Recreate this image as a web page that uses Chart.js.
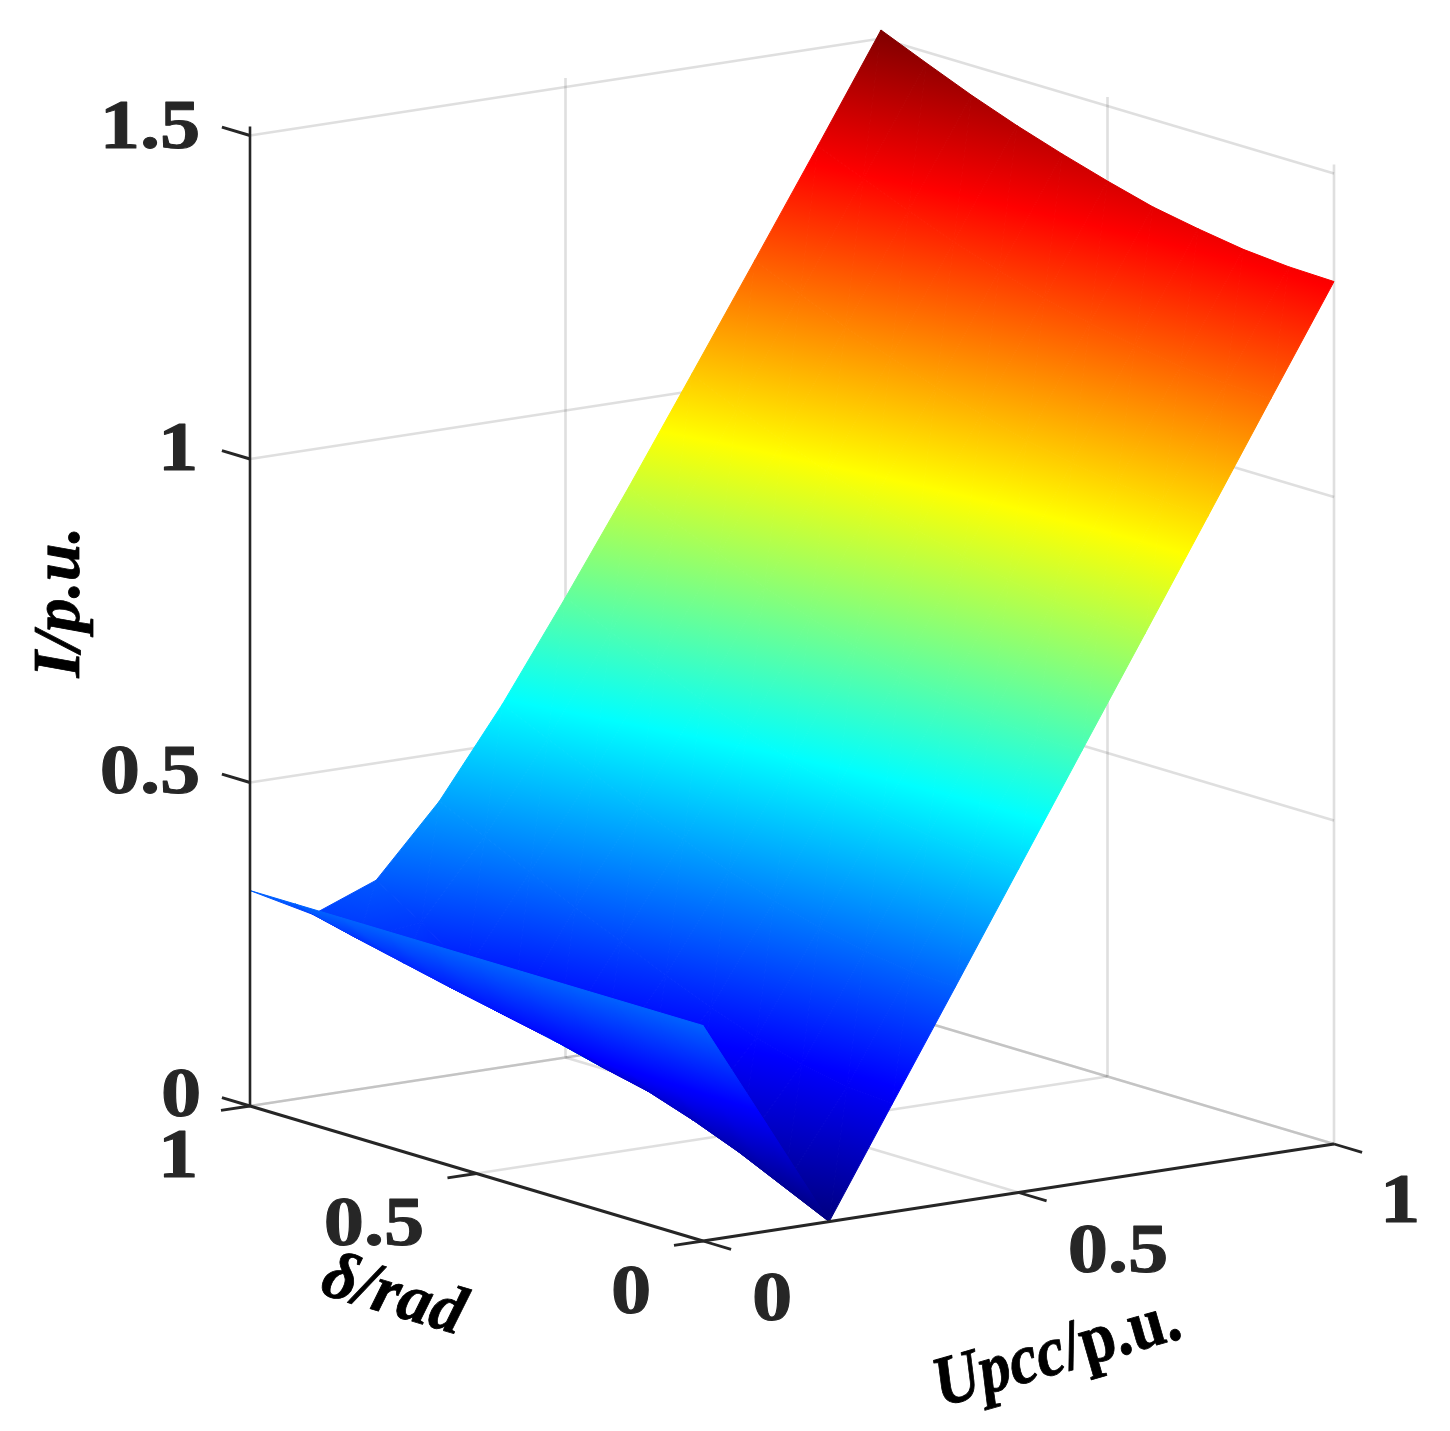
<!DOCTYPE html>
<html>
<head>
<meta charset="utf-8">
<style>html,body{margin:0;padding:0;background:#fff}canvas{display:block}</style>
<script src="https://cdn.jsdelivr.net/npm/chart.js@4/dist/chart.umd.js"></script>
</head>
<body>
<canvas id="c" width="1450" height="1431"></canvas>
<script>
// Grid of the surface
const upccValues  = [0, 0.1, 0.2, 0.3, 0.4, 0.5, 0.6, 0.7, 0.8, 0.9, 1];
const deltaValues = [0, 0.1, 0.2, 0.3, 0.4, 0.5, 0.6, 0.7, 0.8, 0.9, 1];
// I/p.u., one array per Upcc value, delta rising
const iU00 = [0.333,0.333,0.333,0.333,0.333,0.333,0.333,0.333,0.333,0.333,0.333];
const iU01 = [0.167,0.169,0.174,0.181,0.191,0.203,0.217,0.232,0.248,0.264,0.281];
const iU02 = [0.000,0.033,0.066,0.094,0.118,0.134,0.152,0.170,0.222,0.275,0.319];
const iU03 = [0.167,0.172,0.186,0.207,0.233,0.262,0.293,0.325,0.358,0.393,0.426];
const iU04 = [0.333,0.336,0.346,0.362,0.383,0.407,0.435,0.464,0.496,0.528,0.561];
const iU05 = [0.500,0.503,0.511,0.524,0.542,0.563,0.589,0.616,0.647,0.678,0.711];
const iU06 = [0.667,0.669,0.677,0.689,0.705,0.725,0.749,0.775,0.804,0.834,0.866];
const iU07 = [0.833,0.835,0.842,0.854,0.869,0.889,0.912,0.937,0.965,0.994,1.026];
const iU08 = [1.000,1.002,1.009,1.020,1.034,1.053,1.075,1.099,1.126,1.156,1.187];
const iU09 = [1.167,1.169,1.175,1.186,1.200,1.218,1.239,1.263,1.290,1.319,1.349];
const iU10 = [1.333,1.335,1.341,1.352,1.365,1.384,1.405,1.428,1.454,1.483,1.513];
const currentRows = [iU00,iU01,iU02,iU03,iU04,iU05,iU06,iU07,iU08,iU09,iU10];
// Axis ticks
const upccTicks  = [0, 0.5, 1];
const deltaTicks = [0, 0.5, 1];
const currentTicks = [0, 0.5, 1, 1.5];
const currentTop = 1.514;
// Text
const upccTickLabels = ['0','0.5','1'];
const deltaTickLabels = ['0','0.5','1'];
const currentTickLabels = ['0','0.5','1','1.5'];

// Orthographic view of the 3D box onto the chart's x/y scales
const view = {x0:703, xU:631, xD:-453, y0:1241, yU:-97, yD:-135, yI:-647};
const project = (u,d,i) => ({x: view.x0+view.xU*u+view.xD*d, y: view.y0+view.yU*u+view.yD*d+view.yI*i});
const depth = (u,d,i) => 453*u + 631*d - 199.6*i;

// Jet colormap
const jet = [[0,'rgb(0,0,128)'],[0.125,'rgb(0,0,255)'],[0.375,'rgb(0,255,255)'],[0.625,'rgb(255,255,0)'],[0.875,'rgb(255,0,0)'],[1,'rgb(128,0,0)']];
const cMax = Math.max(...currentRows.flat());

const GRID = 'rgba(38,38,38,0.15)';
const AXIS = '#262626';
const line = (pts,color,w,order,label) => ({label,type:'scatter',showLine:true,data:pts,borderColor:color,borderWidth:w,pointRadius:0,fill:false,order,clip:false});

const datasets = [];
// Wall and floor grid
currentTicks.forEach(z=>{
  datasets.push(line([project(0,1,z),project(1,1,z)],GRID,2.6,3,'wall U z='+z));
  datasets.push(line([project(1,1,z),project(1,0,z)],GRID,2.6,3,'wall d z='+z));
});
upccTicks.filter(u=>u>0).forEach(u=>{
  datasets.push(line([project(u,1,0),project(u,1,currentTop)],GRID,2.6,3,'vert U='+u));
  datasets.push(line([project(u,0,0),project(u,1,0)],GRID,2.6,3,'floor U='+u));
});
deltaTicks.filter(d=>d<1).forEach(d=>{
  datasets.push(line([project(1,d,0),project(1,d,currentTop)],GRID,2.6,3,'vert d='+d));
});
deltaTicks.filter(d=>d>0).forEach(d=>{
  datasets.push(line([project(0,d,0),project(1,d,0)],GRID,2.6,3,'floor d='+d));
});
// Surface vertices
const surfacePoints = [];
upccValues.forEach((u,a)=>deltaValues.forEach((d,b)=>{
  const p = project(u,d,currentRows[a][b]);
  surfacePoints.push({x:p.x,y:p.y,u,d,i:currentRows[a][b]});
}));
const surfaceIndex = datasets.length;
datasets.push({label:'I(Upcc,delta)',type:'scatter',data:surfacePoints,pointRadius:0,showLine:false,order:2,clip:false});
// Dark axes and ticks
datasets.push(line([project(0,1,0),project(0,1,currentTop)],AXIS,2.6,1,'I axis'));
datasets.push(line([project(0,1,0),project(0,0,0)],AXIS,3,1,'delta axis'));
datasets.push(line([project(0,0,0),project(1,0,0)],AXIS,3,1,'Upcc axis'));
currentTicks.forEach(z=>datasets.push(line([project(0,1,z),project(0,1.062,z)],AXIS,3,1,'I tick')));
deltaTicks.forEach(d=>datasets.push(line([project(0,d,0),project(-0.046,d,0)],AXIS,2.8,1,'delta tick')));
upccTicks.forEach(u=>datasets.push(line([project(u,0,0),project(u,-0.062,0)],AXIS,2.8,1,'Upcc tick')));

function solidColor(v){
  const t = Math.max(0,Math.min(1,v/cMax));
  const c = s=>s.match(/\d+/g).map(Number);
  for(let k=1;k<jet.length;k++){ if(t<=jet[k][0]){
    const f=(t-jet[k-1][0])/(jet[k][0]-jet[k-1][0]); const A=c(jet[k-1][1]),B=c(jet[k][1]);
    return `rgb(${A.map((q,n)=>Math.round(q+(B[n]-q)*f)).join(',')})`;
  }}
  return jet[jet.length-1][1];
}
function paintTriangle(ctx,P){
  const [a,b,c]=P;
  const dx1=b.x-a.x,dy1=b.y-a.y,dz1=b.i-a.i,dx2=c.x-a.x,dy2=c.y-a.y,dz2=c.i-a.i;
  const det=dx1*dy2-dx2*dy1;
  let paint;
  if(Math.abs(det)<1e-6) return;
  const gx=(dz1*dy2-dz2*dy1)/det, gy=(dx1*dz2-dx2*dz1)/det, n2=gx*gx+gy*gy;
  if(n2<1e-9){ paint=solidColor((a.i+b.i+c.i)/3); }
  else{
    const s0=(0-a.i)/n2, s1=(cMax-a.i)/n2;
    paint=ctx.createLinearGradient(a.x+gx*s0,a.y+gy*s0,a.x+gx*s1,a.y+gy*s1);
    jet.forEach(([o,col])=>paint.addColorStop(o,col));
  }
  ctx.beginPath();ctx.moveTo(a.x,a.y);ctx.lineTo(b.x,b.y);ctx.lineTo(c.x,c.y);ctx.closePath();
  ctx.fillStyle=paint;ctx.strokeStyle=paint;ctx.lineWidth=1;ctx.lineJoin='round';
  ctx.fill();ctx.stroke();
}
const surfacePlugin = {
  id:'surface',
  afterDatasetDraw(chart,args){
    if(args.index!==surfaceIndex) return;
    const el=chart.getDatasetMeta(surfaceIndex).data, raw=surfacePoints, nD=deltaValues.length;
    const tris=[];
    const vtx=k=>({x:el[k].x,y:el[k].y,i:raw[k].i,u:raw[k].u,d:raw[k].d});
    for(let a=0;a<upccValues.length-1;a++)for(let b=0;b<nD-1;b++){
      const A=vtx(a*nD+b),B=vtx((a+1)*nD+b),C=vtx((a+1)*nD+b+1),D=vtx(a*nD+b+1);
      tris.push([A,B,C],[A,C,D]);
    }
    const dz=t=>t.reduce((s,v)=>s+depth(v.u,v.d,v.i),0)/3;
    tris.sort((p,q)=>dz(q)-dz(p));
    const ctx=chart.ctx;ctx.save();
    tris.forEach(t=>paintTriangle(ctx,t));
    ctx.restore();
  }
};
const FAMILY='"Liberation Serif"';
const tickText=[
  [currentTickLabels[3],150,148],[currentTickLabels[2],178,470],[currentTickLabels[1],150,793],[currentTickLabels[0],181,1116],
  [deltaTickLabels[2],178,1177],[deltaTickLabels[1],374,1245],[deltaTickLabels[0],631,1313],
  [upccTickLabels[0],772,1320],[upccTickLabels[1],1118,1272],[upccTickLabels[2],1400,1222]
];
function heavyText(ctx,s,x,y,w){ctx.lineWidth=w;ctx.lineJoin='round';ctx.strokeStyle=ctx.fillStyle;ctx.strokeText(s,x,y);ctx.fillText(s,x,y);}
const textPlugin = {
  id:'labels3d',
  afterDraw(chart){
    const ctx=chart.ctx;ctx.save();
    ctx.fillStyle='#262626';ctx.font='bold 70px '+FAMILY;ctx.textAlign='center';ctx.textBaseline='alphabetic';
    tickText.forEach(([s,x,y])=>{ctx.save();ctx.translate(x,y);ctx.scale(1.15,1);heavyText(ctx,s,0,0,1);ctx.restore();});
    ctx.fillStyle='#000';
    // I/p.u.
    ctx.save();ctx.translate(79,602);ctx.rotate(-Math.PI/2);ctx.font='italic bold 68px '+FAMILY;heavyText(ctx,'I/p.u.',0,0,0.8);ctx.restore();
    // delta/rad
    ctx.save();ctx.translate(388,1314);ctx.rotate(16.6*Math.PI/180);ctx.scale(0.98,1);ctx.font='italic bold 68px '+FAMILY;heavyText(ctx,'δ/rad',0,0,0.8);ctx.restore();
    // Upcc/p.u.
    ctx.save();ctx.translate(941,1407);ctx.rotate(-16*Math.PI/180);ctx.scale(0.93,1.05);ctx.textAlign='left';
    ctx.font='italic bold 68px '+FAMILY;heavyText(ctx,'Upcc',0,0,0.8);
    const w=ctx.measureText('Upcc').width;
    ctx.font='bold 68px '+FAMILY;heavyText(ctx,'/p.u.',w,0,0.8);ctx.restore();
    ctx.restore();
  }
};
new Chart(document.getElementById('c'),{
  type:'scatter',
  data:{datasets},
  options:{
    responsive:false,animation:false,devicePixelRatio:1,
    layout:{padding:0},
    plugins:{legend:{display:false},tooltip:{enabled:false},title:{display:false}},
    scales:{
      x:{type:'linear',min:0,max:1450,display:false},
      y:{type:'linear',min:0,max:1431,reverse:true,display:false}
    }
  },
  plugins:[surfacePlugin,textPlugin]
});
</script>
</body>
</html>
